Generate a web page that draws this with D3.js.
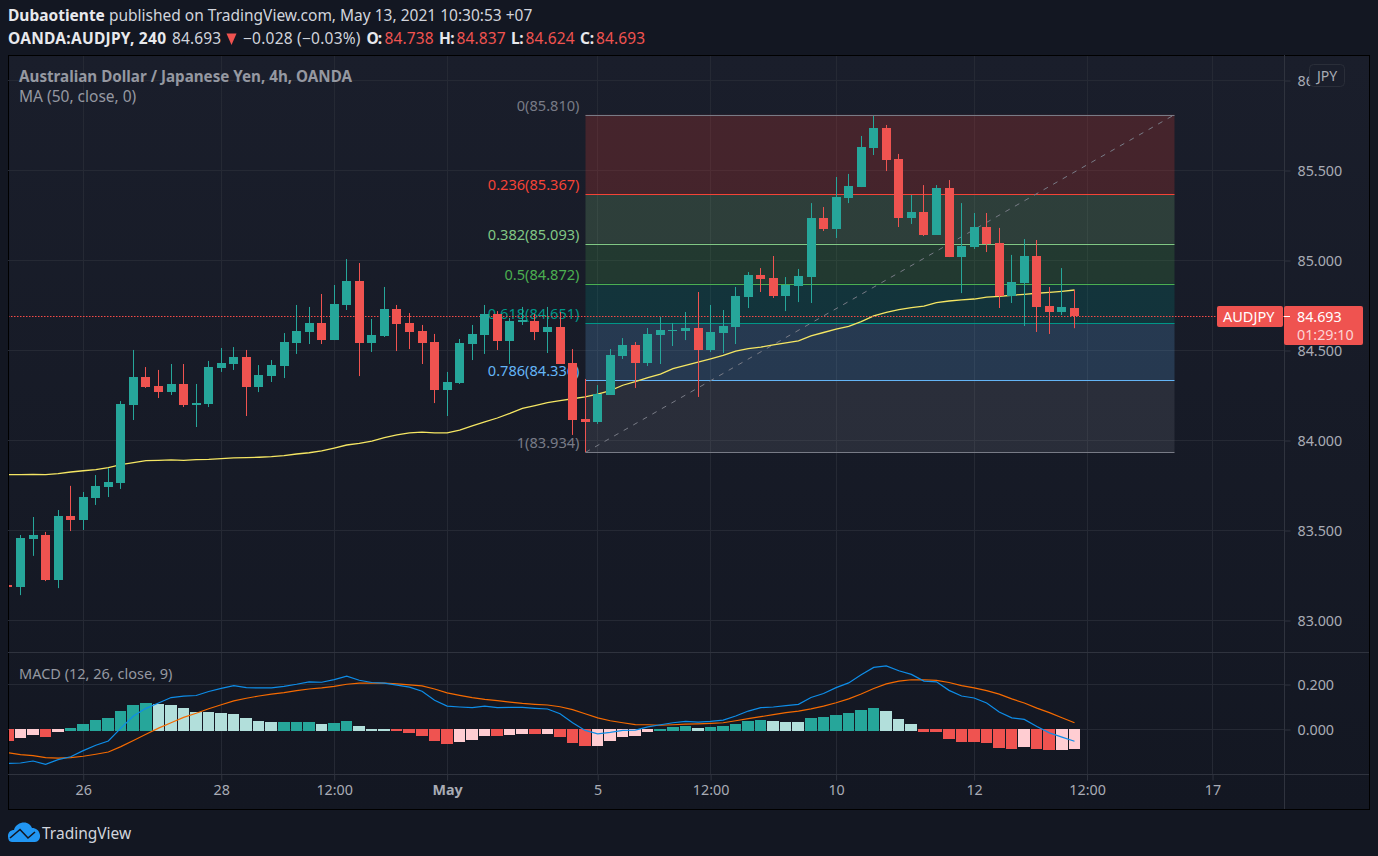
<!DOCTYPE html>
<html>
<head>
<meta charset="utf-8">
<script src="https://cdn.jsdelivr.net/npm/d3@7"></script>
<style>
  html, body { margin: 0; padding: 0; background: #131722; overflow: hidden; }
  svg { display: block; }
  text { font-family: "Noto Sans", "Open Sans", sans-serif; }
</style>
</head>
<body>
<svg id="chart" width="1378" height="856"></svg>
<script>
// one bar per 4h, index 0 is the clipped bar at the left edge
const opens = [83.197,83.186,83.453,83.475,83.225,83.581,83.558,83.681,83.742,83.764,84.197,84.353,84.303,84.269,84.314,84.197,84.203,84.403,84.425,84.464,84.297,84.358,84.414,84.542,84.603,84.653,84.558,84.753,84.886,84.542,84.581,84.731,84.653,84.608,84.547,84.281,84.319,84.536,84.586,84.703,84.553,84.658,84.664,84.603,84.631,84.431,84.119,84.103,84.253,84.469,84.531,84.431,84.586,84.608,84.608,84.625,84.503,84.597,84.631,84.797,84.919,84.903,84.803,84.858,84.908,85.236,85.175,85.347,85.408,85.625,85.736,85.564,85.236,85.269,85.142,85.403,85.019,85.075,85.186,85.097,84.803,84.875,85.025,84.747,84.714,84.738];
const highs = [83.197,83.475,83.575,83.492,83.614,83.748,83.714,83.808,83.847,84.219,84.503,84.408,84.392,84.425,84.425,84.314,84.442,84.514,84.519,84.503,84.419,84.447,84.597,84.753,84.742,84.814,84.864,85.008,84.986,84.675,84.853,84.753,84.708,84.642,84.592,84.381,84.564,84.642,84.753,84.719,84.681,84.742,84.703,84.742,84.714,84.508,84.342,84.308,84.508,84.569,84.547,84.625,84.686,84.653,84.714,84.825,84.753,84.725,84.853,84.936,84.958,85.025,84.908,84.953,85.319,85.297,85.464,85.481,85.692,85.803,85.753,85.592,85.364,85.419,85.419,85.447,85.319,85.264,85.264,85.181,85.031,85.119,85.114,84.853,84.958,84.837];
const lows = [83.186,83.141,83.359,83.219,83.180,83.497,83.503,83.642,83.686,83.731,84.114,84.292,84.236,84.253,84.186,84.075,84.186,84.381,84.392,84.136,84.269,84.325,84.347,84.481,84.536,84.536,84.558,84.725,84.358,84.492,84.575,84.497,84.508,84.425,84.208,84.136,84.314,84.447,84.481,84.503,84.425,84.642,84.558,84.486,84.425,84.031,83.936,84.092,84.253,84.453,84.292,84.414,84.425,84.525,84.558,84.242,84.492,84.486,84.536,84.736,84.825,84.792,84.719,84.769,84.764,85.164,85.125,85.319,85.408,85.586,85.497,85.186,85.203,85.136,85.142,85.019,84.819,85.064,85.047,84.736,84.764,84.636,84.603,84.592,84.697,84.624];
const closes = [83.186,83.459,83.475,83.225,83.581,83.558,83.686,83.748,83.769,84.203,84.353,84.297,84.269,84.314,84.197,84.208,84.408,84.431,84.464,84.297,84.364,84.419,84.547,84.608,84.653,84.558,84.758,84.886,84.542,84.586,84.731,84.647,84.603,84.542,84.281,84.325,84.542,84.592,84.703,84.553,84.664,84.669,84.603,84.631,84.425,84.114,84.103,84.258,84.475,84.531,84.431,84.592,84.614,84.614,84.625,84.503,84.603,84.636,84.803,84.919,84.897,84.803,84.864,84.914,85.236,85.175,85.353,85.414,85.631,85.736,85.558,85.236,85.269,85.142,85.403,85.019,85.081,85.186,85.092,84.803,84.881,85.025,84.742,84.714,84.742,84.693];

const maValues = [83.810,83.810,83.812,83.810,83.816,83.825,83.832,83.838,83.849,83.866,83.877,83.888,83.890,83.892,83.890,83.894,83.895,83.899,83.903,83.905,83.907,83.910,83.916,83.925,83.932,83.942,83.958,83.975,83.984,83.997,84.016,84.031,84.042,84.046,84.042,84.042,84.058,84.081,84.103,84.125,84.151,84.179,84.194,84.210,84.221,84.232,84.242,84.257,84.277,84.307,84.327,84.349,84.369,84.399,84.418,84.436,84.454,84.473,84.496,84.510,84.519,84.531,84.542,84.554,84.581,84.600,84.619,84.634,84.660,84.692,84.712,84.727,84.738,84.747,84.766,84.775,84.781,84.786,84.797,84.801,84.807,84.812,84.818,84.823,84.829,84.836];

const macdValues = [-0.151,-0.149,-0.140,-0.155,-0.134,-0.121,-0.094,-0.070,-0.051,0.006,0.060,0.094,0.118,0.142,0.148,0.151,0.169,0.183,0.195,0.186,0.185,0.185,0.192,0.201,0.212,0.210,0.222,0.237,0.219,0.209,0.206,0.197,0.188,0.170,0.130,0.104,0.100,0.097,0.104,0.097,0.098,0.098,0.094,0.091,0.070,0.030,-0.004,-0.019,-0.013,-0.004,-0.003,0.012,0.021,0.030,0.036,0.033,0.036,0.042,0.060,0.082,0.097,0.100,0.106,0.112,0.142,0.160,0.186,0.207,0.243,0.276,0.283,0.261,0.245,0.215,0.212,0.174,0.149,0.140,0.118,0.078,0.052,0.045,0.013,-0.015,-0.034,-0.052];
const signalValues = [-0.103,-0.112,-0.116,-0.125,-0.127,-0.125,-0.119,-0.110,-0.100,-0.076,-0.049,-0.021,0.006,0.030,0.054,0.072,0.092,0.110,0.127,0.139,0.149,0.157,0.164,0.173,0.180,0.185,0.192,0.201,0.206,0.206,0.206,0.203,0.198,0.194,0.180,0.163,0.152,0.142,0.134,0.128,0.122,0.116,0.112,0.109,0.101,0.088,0.070,0.052,0.039,0.030,0.022,0.021,0.019,0.021,0.024,0.025,0.027,0.030,0.039,0.048,0.057,0.066,0.075,0.082,0.092,0.104,0.119,0.136,0.158,0.182,0.203,0.215,0.221,0.221,0.218,0.209,0.195,0.185,0.173,0.157,0.136,0.118,0.095,0.075,0.052,0.030];
const histValues = [-0.052,-0.039,-0.025,-0.034,-0.012,0.006,0.024,0.042,0.051,0.082,0.109,0.118,0.113,0.109,0.096,0.078,0.078,0.073,0.069,0.051,0.037,0.033,0.033,0.033,0.033,0.024,0.028,0.037,0.015,0.002,0.002,-0.007,-0.016,-0.030,-0.052,-0.066,-0.057,-0.048,-0.030,-0.030,-0.025,-0.021,-0.021,-0.021,-0.034,-0.061,-0.075,-0.075,-0.052,-0.034,-0.030,-0.012,0.002,0.010,0.015,0.006,0.010,0.015,0.024,0.037,0.042,0.037,0.033,0.033,0.051,0.055,0.064,0.073,0.087,0.096,0.082,0.046,0.024,-0.009,-0.009,-0.040,-0.054,-0.054,-0.058,-0.081,-0.085,-0.076,-0.085,-0.090,-0.090,-0.085];
// bars where the histogram moves back towards zero get the pale colour
const histPale = [1,2,4,12,13,14,15,16,17,18,19,20,21,25,28,29,30,36,37,38,40,41,43,47,48,49,50,51,55,61,62,63,70,71,72,81,84,85];

const priceTicks = [83, 83.5, 84, 84.5, 85, 85.5, 86];
const macdTicks = [0, 0.2];
const timeTicks = [6, 17, 26, 35, 47, 56, 66, 77, 86, 96];
const timeLabels = ["26", "28", "12:00", "May", "5", "12:00", "10", "12", "12:00", "17"];

const fibRatios = ["0", "0.236", "0.382", "0.5", "0.618", "0.786", "1"];
const fibPrices = [85.810, 85.367, 85.093, 84.872, 84.651, 84.336, 83.934];
const fibColors = ["#787b86", "#f44336", "#81c784", "#4caf50", "#009688", "#64b5f6", "#787b86"];
const fibStartIndex = 46;
const fibEndIndex = 93;

const UP = "#26a69a";
const DOWN = "#ef5350";
const UP_PALE = "#b2dfdb";
const DOWN_PALE = "#ffcdd2";
const TEXT = "#a9acb5";

const plotLeft = 8, plotRight = 1284, outerRight = 1369;
const plotTop = 55, paneSplit = 652, plotBottom = 774, outerBottom = 809;

const svg = d3.select("#chart");

const x = d3.scaleLinear().domain([1, 85]).range([20.5, 1074.5]);
const y = d3.scaleLinear().domain([83, 86]).range([620.5, 80.5]);
const yMacd = d3.scaleLinear().domain([0, 0.2]).range([729.5, 684.5]);
const px = (i) => Math.floor(x(i)) + 0.5;

const defs = svg.append("defs");
const bg = defs.append("linearGradient").attr("id", "paneBg").attr("x1", 0).attr("x2", 0).attr("y1", 0).attr("y2", 1);
bg.append("stop").attr("offset", "0%").attr("stop-color", "#1a1e2b");
bg.append("stop").attr("offset", "100%").attr("stop-color", "#131722");
defs.append("clipPath").attr("id", "mainClip").append("rect")
  .attr("x", plotLeft + 1).attr("y", plotTop).attr("width", plotRight - plotLeft - 1).attr("height", paneSplit - plotTop);
defs.append("clipPath").attr("id", "macdClip").append("rect")
  .attr("x", plotLeft + 1).attr("y", paneSplit).attr("width", plotRight - plotLeft - 1).attr("height", plotBottom - paneSplit);

svg.append("rect").attr("x", plotLeft + 0.5).attr("y", plotTop + 0.5)
  .attr("width", outerRight - plotLeft).attr("height", outerBottom - plotTop)
  .attr("fill", "url(#paneBg)").attr("stroke", "#000");

// grid
const gridColor = "#252934";
const grid = svg.append("g").attr("fill", "none").attr("stroke", gridColor);
grid.selectAll(".v").data(timeTicks).join("line").attr("class", "v")
  .attr("x1", (d) => px(d)).attr("x2", (d) => px(d)).attr("y1", plotTop + 1).attr("y2", plotBottom);
grid.selectAll(".h").data(priceTicks).join("line").attr("class", "h")
  .attr("x1", plotLeft).attr("x2", plotRight).attr("y1", (d) => Math.floor(y(d)) + 0.5).attr("y2", (d) => Math.floor(y(d)) + 0.5);
grid.selectAll(".m").data(macdTicks).join("line").attr("class", "m")
  .attr("x1", plotLeft).attr("x2", plotRight).attr("y1", (d) => Math.floor(yMacd(d)) + 0.5).attr("y2", (d) => Math.floor(yMacd(d)) + 0.5);

// pane separators
const sep = svg.append("g").attr("stroke", "#2f333e");
sep.append("line").attr("x1", plotLeft).attr("x2", outerRight).attr("y1", paneSplit + 0.5).attr("y2", paneSplit + 0.5);
sep.append("line").attr("x1", plotLeft).attr("x2", outerRight).attr("y1", plotBottom + 0.5).attr("y2", plotBottom + 0.5);
sep.append("line").attr("x1", plotRight + 0.5).attr("x2", plotRight + 0.5).attr("y1", plotTop).attr("y2", outerBottom);

// axes, the 86 label is cut off by the JPY badge in the original
const fmt3 = d3.format(".3f");
const priceAxis = d3.axisRight(y).tickValues(priceTicks).tickFormat((d) => (d === 86 ? "86" : fmt3(d))).tickSize(6).tickPadding(7);
const macdAxis = d3.axisRight(yMacd).tickValues(macdTicks).tickFormat(fmt3).tickSize(6).tickPadding(7);
const timeAxis = d3.axisBottom(x).tickValues(timeTicks)
  .tickFormat((d) => timeLabels[timeTicks.indexOf(d)]).tickSize(6).tickPadding(4);

function styleAxis(g) {
  g.select(".domain").remove();
  g.selectAll(".tick line").attr("stroke", "#2f333e");
  g.selectAll(".tick text").attr("fill", TEXT).attr("font-size", 14.3)
    .attr("font-family", '"Noto Sans", "Open Sans", sans-serif');
}
svg.append("g").attr("transform", `translate(${plotRight + 0.5},0)`).call(priceAxis).call(styleAxis);
svg.append("g").attr("transform", `translate(${plotRight + 0.5},0)`).call(macdAxis).call(styleAxis);
svg.append("g").attr("transform", `translate(0,${plotBottom + 0.5})`).call(timeAxis).call(styleAxis)
  .selectAll(".tick text").attr("font-weight", (d) => (d === 35 ? "bold" : "normal"));

// fib retracement, sits under the candles
const fibX0 = px(fibStartIndex);
const fibX1 = px(fibEndIndex);
const main = svg.append("g").attr("clip-path", "url(#mainClip)");
const fib = main.append("g");
fib.selectAll(".band").data(fibPrices.slice(1)).join("rect").attr("class", "band")
  .attr("x", fibX0).attr("width", fibX1 - fibX0)
  .attr("y", (d, i) => y(fibPrices[i]))
  .attr("height", (d, i) => y(d) - y(fibPrices[i]))
  .attr("fill", (d, i) => fibColors[i + 1])
  .attr("opacity", 0.2);
fib.selectAll(".level").data(fibPrices).join("line").attr("class", "level")
  .attr("x1", fibX0).attr("x2", fibX1)
  .attr("y1", (d) => Math.round(y(d)) + 0.5).attr("y2", (d) => Math.round(y(d)) + 0.5)
  .attr("stroke", (d, i) => fibColors[i]);
fib.append("line")
  .attr("x1", fibX0).attr("x2", fibX1)
  .attr("y1", y(fibPrices[6])).attr("y2", y(fibPrices[0]))
  .attr("stroke", "#787b86").attr("stroke-dasharray", "5 6");
fib.selectAll(".fibLabel").data(fibPrices).join("text").attr("class", "fibLabel")
  .attr("x", fibX0 - 6).attr("y", (d) => y(d) - 4)
  .attr("text-anchor", "end").attr("font-size", 14.6)
  .attr("fill", (d, i) => fibColors[i])
  .text((d, i) => `${fibRatios[i]}(${fmt3(d)})`);

// MA sits under the candles as well
main.append("path").datum(maValues)
  .attr("fill", "none").attr("stroke", "#f5e663").attr("stroke-width", 1.3)
  .attr("d", d3.line().x((d, i) => x(i)).y((d) => y(d)));

// last price line
const lastY = Math.round(y(closes[85]));
main.append("line")
  .attr("x1", plotLeft).attr("x2", plotRight)
  .attr("y1", lastY + 0.5).attr("y2", lastY + 0.5)
  .attr("stroke", "#f44b47").attr("stroke-dasharray", "1.5 1.5");

const candles = main.append("g").selectAll("g").data(opens).join("g")
  .attr("fill", (d, i) => (closes[i] >= d ? UP : DOWN));
candles.append("rect")
  .attr("x", (d, i) => px(i) - 0.5).attr("width", 1)
  .attr("y", (d, i) => y(highs[i]))
  .attr("height", (d, i) => y(lows[i]) - y(highs[i]));
candles.append("rect")
  .attr("x", (d, i) => px(i) - 4.5).attr("width", 9)
  .attr("y", (d, i) => Math.round(y(Math.max(d, closes[i]))))
  .attr("height", (d, i) => Math.max(1, Math.round(y(Math.min(d, closes[i]))) - Math.round(y(Math.max(d, closes[i])))));

// MACD pane
const macdPane = svg.append("g").attr("clip-path", "url(#macdClip)");
macdPane.selectAll("rect").data(histValues).join("rect")
  .attr("x", (d, i) => Math.round(x(i) - 6))
  .attr("width", (d, i) => Math.round(x(i + 1) - 6) - Math.round(x(i) - 6) - 1)
  .attr("y", (d) => (d >= 0 ? Math.round(yMacd(d)) : Math.floor(yMacd(0))))
  .attr("height", (d) => (d >= 0 ? Math.ceil(yMacd(0)) + 1 - Math.round(yMacd(d)) : Math.round(yMacd(d)) - Math.floor(yMacd(0))))
  .attr("fill", (d, i) => {
    const pale = histPale.includes(i);
    if (d >= 0) return pale ? UP_PALE : UP;
    return pale ? DOWN_PALE : DOWN;
  });
const macdLine = d3.line().x((d, i) => x(i)).y((d) => yMacd(d));
macdPane.append("path").datum(signalValues).attr("fill", "none").attr("stroke", "#f56a00").attr("stroke-width", 1.2).attr("d", macdLine);
macdPane.append("path").datum(macdValues).attr("fill", "none").attr("stroke", "#0e8de8").attr("stroke-width", 1.2).attr("d", macdLine);

// legends
svg.append("text").attr("x", 19).attr("y", 82).attr("font-size", 15.2).attr("font-weight", "bold").attr("fill", "#9598a1")
  .text("Australian Dollar / Japanese Yen, 4h, OANDA");
svg.append("text").attr("x", 19).attr("y", 102).attr("font-size", 15.5).attr("fill", "#9598a1").text("MA (50, close, 0)");
svg.append("text").attr("x", 19).attr("y", 679).attr("font-size", 14.5).attr("fill", "#9598a1").text("MACD (12, 26, close, 9)");

// price labels on the right
svg.append("rect").attr("x", 1217).attr("y", lastY - 10).attr("width", 66).attr("height", 21).attr("rx", 2).attr("fill", DOWN);
svg.append("text").attr("x", 1223).attr("y", lastY + 5.5).attr("font-size", 14.5).attr("fill", "#fff").text("AUDJPY");
svg.append("rect").attr("x", 1284).attr("y", lastY - 10).attr("width", 79).attr("height", 39).attr("rx", 2).attr("fill", DOWN);
svg.append("line").attr("x1", 1284).attr("x2", 1290).attr("y1", lastY + 0.5).attr("y2", lastY + 0.5).attr("stroke", "#fff");
svg.append("text").attr("x", 1297).attr("y", lastY + 5.5).attr("font-size", 14.3).attr("fill", "#fff").text("84.693");
svg.append("text").attr("x", 1297).attr("y", lastY + 24).attr("font-size", 14.3).attr("fill", "#fcd5d5").text("01:29:10");

svg.append("rect").attr("x", 1309.5).attr("y", 64.5).attr("width", 35).attr("height", 22).attr("rx", 4)
  .attr("fill", "#1a1e2b").attr("stroke", "#2a2e39");
svg.append("text").attr("x", 1327).attr("y", 80.5).attr("text-anchor", "middle").attr("font-size", 14).attr("fill", TEXT).text("JPY");

// header
const header = svg.append("g").attr("font-size", 15.5);
const line1 = header.append("text").attr("x", 8).attr("y", 21).attr("fill", "#d1d4dc");
line1.append("tspan").attr("font-weight", "bold").attr("fill", "#e8e9ed").text("Dubaotiente");
line1.append("tspan").text(" published on TradingView.com, May 13, 2021 10:30:53 +07");

const headerPieces = [
  { t: "OANDA:AUDJPY, 240", x: 8, w: 158, bold: true, c: "#e8e9ed" },
  { t: "84.693", x: 172, w: 49, c: "#d1d4dc" },
  { t: "\u22120.028 (\u22120.03%)", x: 243, w: 117.5, c: "#d1d4dc" },
  { t: "O:", x: 366.5, w: 15.5, bold: true, c: "#e8e9ed" },
  { t: "84.738", x: 384.5, w: 49, c: DOWN },
  { t: "H:", x: 439, w: 15.5, bold: true, c: "#e8e9ed" },
  { t: "84.837", x: 456.5, w: 49, c: DOWN },
  { t: "L:", x: 511, w: 12.5, bold: true, c: "#e8e9ed" },
  { t: "84.624", x: 525.5, w: 49, c: DOWN },
  { t: "C:", x: 580, w: 14, bold: true, c: "#e8e9ed" },
  { t: "84.693", x: 596, w: 49, c: DOWN },
];
header.selectAll(".piece").data(headerPieces).join("text").attr("class", "piece")
  .attr("x", (d) => d.x).attr("y", 44)
  .attr("textLength", (d) => d.w)
  .attr("font-weight", (d) => (d.bold ? "bold" : "normal"))
  .attr("fill", (d) => d.c)
  .text((d) => d.t);
svg.append("path").attr("d", "M226.5 33.5 L236.5 33.5 L231.5 45 Z").attr("fill", DOWN);

// logo
const logo = svg.append("g");
logo.append("path")
  .attr("d", "M8 836 C8 832 11 830 14 830 C15 825 20 822.5 24 822.5 C28 822.5 31 825 32 828 C36 828 39 830 40 835 C40.5 839 38 842 35 842 L12 842 C9 842 8 839 8 836 Z")
  .attr("fill", "#2196f3");
logo.append("path").attr("d", "M10 838 L20 829.5 L28 838 L35 832").attr("fill", "none").attr("stroke", "#131722").attr("stroke-width", 1.6);
logo.append("text").attr("x", 42).attr("y", 838.5).attr("font-size", 15.5).attr("fill", "#d1d4dc").text("TradingView");
</script>
</body>
</html>
